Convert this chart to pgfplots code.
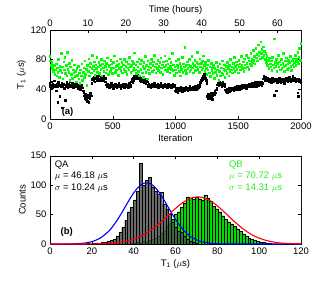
\documentclass[border=0pt]{standalone}
\usepackage{pgfplots}
\pgfplotsset{compat=1.18}
\usepackage{fontspec}
\setmainfont{Liberation Sans}
\definecolor{ptgreen}{RGB}{0,255,0}
\definecolor{bargreen}{RGB}{0,220,0}
\definecolor{txtgreen}{RGB}{40,235,40}
\definecolor{bargray}{RGB}{75,75,75}
\pgfplotsset{
  every axis/.append style={
    /pgf/number format/assume math mode=true,
    tick label style={font=\fontsize{9.5}{11}\selectfont},
    label style={font=\fontsize{9.5}{11}\selectfont},
    major tick length=3pt,
    tick style={black, line width=0.4pt},
  }
}
\begin{document}
\begin{tikzpicture}
\path[use as bounding box] (0,0) rectangle (336pt,284pt);
% ---------- panel (a) ----------
\begin{axis}[at={(50pt,165pt)}, anchor=south west, scale only axis,
  width=251pt, height=89pt,
  xmin=0, xmax=2000, ymin=0, ymax=120,
  xtick={0,500,1000,1500,2000}, ytick={0,40,80,120},
  xtick pos=bottom, ytick pos=both,
  scaled x ticks=false,
  xticklabel style={/pgf/number format/1000 sep={}},
  xlabel={Iteration}, ylabel={T\textsubscript{1} ($\mu$s)},
  xlabel style={yshift=2pt}, ylabel style={yshift=-2pt},
  clip=true]
\addplot[black, only marks, mark=square*, mark size=0.8pt, mark options={line width=0pt}] coordinates {
(0,48)(5,44)(10,50)(15,46)(20,42)(25,47)(30,45)(35,51)(40,43)(45,46)
(50,38)(55,47)(60,44)(65,22)(70,49)(75,45)(80,30)(85,46)(90,43)(95,48)
(100,15)(105,45)(110,47)(115,41)(120,46)(125,25)(130,44)(135,49)(140,45)(145,42)
(150,47)(155,44)(160,50)(165,46)(170,43)(175,45)(180,48)(185,42)(190,46)(195,44)
(200,47)(205,43)(210,45)(215,49)(220,44)(225,41)(230,46)(235,43)(240,47)(245,40)
(250,44)(255,46)(260,42)(265,38)(270,35)(275,31)(280,28)(285,33)(290,26)(295,30)
(300,24)(305,32)(310,22)(315,29)(320,27)(325,34)(330,31)(335,48)(340,53)(345,55)
(350,52)(355,56)(360,50)(365,54)(370,57)(375,51)(380,55)(385,53)(390,58)(395,52)
(400,54)(405,56)(410,51)(415,55)(420,53)(425,57)(430,52)(435,54)(440,50)(445,55)
(450,46)(455,44)(460,47)(465,43)(470,45)(475,42)(480,46)(485,44)(490,48)(495,43)
(500,45)(505,41)(510,46)(515,44)(520,47)(525,43)(530,45)(535,42)(540,46)(545,44)
(550,48)(555,43)(560,45)(565,41)(570,44)(575,46)(580,43)(585,47)(590,44)(595,42)
(600,45)(605,47)(610,43)(615,46)(620,44)(625,42)(630,45)(635,48)(640,44)(645,46)
(650,50)(655,53)(660,49)(665,55)(670,52)(675,57)(680,54)(685,58)(690,55)(695,59)
(700,56)(705,58)(710,54)(715,57)(720,52)(725,55)(730,50)(735,53)(740,51)(745,54)
(750,49)(755,52)(760,50)(765,48)(770,53)(775,50)(780,45)(785,43)(790,47)(795,44)
(800,46)(805,42)(810,45)(815,47)(820,43)(825,46)(830,44)(835,48)(840,45)(845,43)
(850,46)(855,44)(860,47)(865,42)(870,45)(875,43)(880,46)(885,48)(890,44)(895,45)
(900,42)(905,46)(910,44)(915,47)(920,43)(925,45)(930,46)(935,42)(940,44)(945,47)
(950,45)(955,43)(960,46)(965,44)(970,42)(975,45)(980,47)(985,43)(990,44)(995,46)
(1000,38)(1005,41)(1010,37)(1015,40)(1020,36)(1025,42)(1030,39)(1035,41)(1040,38)(1045,43)
(1050,40)(1055,37)(1060,42)(1065,39)(1070,41)(1075,38)(1080,40)(1085,43)(1090,39)(1095,41)
(1100,38)(1105,42)(1110,40)(1115,44)(1120,41)(1125,39)(1130,42)(1135,40)(1140,43)(1145,41)
(1150,39)(1155,42)(1160,44)(1165,40)(1170,43)(1175,41)(1180,45)(1185,42)(1190,44)(1195,47)
(1200,49)(1205,52)(1210,55)(1215,53)(1220,58)(1225,56)(1230,60)(1235,57)(1240,55)(1245,52)
(1250,48)(1255,30)(1260,28)(1265,33)(1270,27)(1275,31)(1280,29)(1285,34)(1290,30)(1295,26)
(1300,32)(1305,35)(1310,33)(1315,37)(1320,35)(1325,39)(1330,41)(1335,46)(1340,48)(1345,45)
(1350,47)(1355,49)(1360,46)(1365,48)(1370,44)(1375,47)(1380,49)(1385,45)(1390,47)(1395,44)
(1400,39)(1405,37)(1410,40)(1415,36)(1420,38)(1425,41)(1430,37)(1435,40)(1440,38)(1445,41)
(1450,39)(1455,42)(1460,40)(1465,38)(1470,41)(1475,43)(1480,39)(1485,42)(1490,40)(1495,44)
(1500,41)(1505,43)(1510,40)(1515,42)(1520,44)(1525,41)(1530,43)(1535,45)(1540,42)(1545,44)
(1550,42)(1555,45)(1560,43)(1565,41)(1570,44)(1575,46)(1580,43)(1585,45)(1590,47)(1595,44)
(1600,46)(1605,43)(1610,45)(1615,48)(1620,44)(1625,47)(1630,45)(1635,49)(1640,46)(1645,44)
(1650,47)(1655,49)(1660,45)(1665,48)(1670,46)(1675,50)(1680,47)(1685,49)(1690,45)(1695,48)
(1700,54)(1705,58)(1710,55)(1715,52)(1720,56)(1725,53)(1730,51)(1735,55)(1740,52)(1745,50)
(1750,54)(1755,51)(1760,53)(1765,49)(1770,52)(1775,55)(1780,50)(1785,53)(1790,32)(1795,51)
(1800,54)(1805,38)(1810,52)(1815,49)(1820,53)(1825,50)(1830,55)(1835,52)(1840,49)(1845,53)
(1850,51)(1855,54)(1860,50)(1865,52)(1870,48)(1875,53)(1880,51)(1885,55)(1890,52)(1895,50)
(1900,54)(1905,51)(1910,56)(1915,53)(1920,50)(1925,54)(1930,52)(1935,57)(1940,53)(1945,51)
(1950,55)(1955,52)(1960,50)(1965,54)(1970,51)(1975,35)(1980,30)(1985,53)(1990,50)(1995,52)(2000,49)
};
\addplot[ptgreen, only marks, mark=square*, mark size=0.8pt, mark options={line width=0pt}] coordinates {
(0,84)(5,78)(10,72)(15,76)(20,68)(25,70)(30,64)(35,72)(40,60)(45,66)
(50,74)(55,58)(60,69)(65,63)(70,80)(75,56)(80,71)(85,65)(90,88)(95,62)
(100,70)(105,54)(110,77)(115,66)(120,83)(125,61)(130,72)(135,58)(140,90)(145,67)
(150,63)(155,75)(160,52)(165,70)(170,60)(175,79)(180,55)(185,66)(190,62)(195,73)
(200,57)(205,64)(210,50)(215,68)(220,59)(225,71)(230,54)(235,62)(240,48)(245,66)
(250,58)(255,74)(260,52)(265,63)(270,69)(275,56)(280,78)(285,60)(290,67)(295,45)
(300,72)(305,64)(310,81)(315,58)(320,70)(325,75)(330,62)(335,68)(340,86)(345,71)
(350,65)(355,77)(360,59)(365,73)(370,68)(375,83)(380,63)(385,70)(390,76)(395,61)
(400,72)(405,67)(410,80)(415,58)(420,74)(425,69)(430,64)(435,78)(440,71)(445,62)
(450,75)(455,66)(460,82)(465,60)(470,70)(475,73)(480,64)(485,79)(490,68)(495,74)
(500,61)(505,76)(510,69)(515,85)(520,63)(525,71)(530,66)(535,78)(540,72)(545,59)
(550,74)(555,68)(560,81)(565,65)(570,70)(575,76)(580,62)(585,73)(590,67)(595,80)
(600,64)(605,71)(610,77)(615,60)(620,69)(625,74)(630,66)(635,83)(640,70)(645,63)
(650,72)(655,78)(660,65)(665,75)(670,68)(675,89)(680,66)(685,73)(690,61)(695,77)
(700,70)(705,64)(710,81)(715,58)(720,74)(725,67)(730,79)(735,62)(740,71)(745,56)
(750,76)(755,68)(760,84)(765,63)(770,72)(775,54)(780,78)(785,66)(790,70)(795,61)
(800,75)(805,69)(810,80)(815,64)(820,72)(825,77)(830,66)(835,86)(840,70)(845,62)
(850,74)(855,68)(860,79)(865,65)(870,71)(875,76)(880,63)(885,82)(890,69)(895,73)
(900,60)(905,77)(910,70)(915,85)(920,66)(925,72)(930,78)(935,64)(940,74)(945,68)
(950,81)(955,62)(960,71)(965,76)(970,67)(975,88)(980,65)(985,73)(990,59)(995,70)
(1000,66)(1005,78)(1010,62)(1015,72)(1020,69)(1025,80)(1030,64)(1035,75)(1040,58)(1045,71)
(1050,67)(1055,83)(1060,63)(1065,74)(1070,70)(1075,96)(1080,65)(1085,72)(1090,61)(1095,77)
(1100,68)(1105,73)(1110,80)(1115,64)(1120,71)(1125,66)(1130,84)(1135,69)(1140,75)(1145,62)
(1150,72)(1155,79)(1160,65)(1165,70)(1170,76)(1175,90)(1180,67)(1185,74)(1190,63)(1195,81)
(1200,70)(1205,75)(1210,66)(1215,78)(1220,69)(1225,85)(1230,72)(1235,64)(1240,76)(1245,68)
(1250,60)(1255,73)(1260,66)(1265,79)(1270,62)(1275,70)(1280,57)(1285,75)(1290,65)(1295,69)
(1300,61)(1305,72)(1310,55)(1315,68)(1320,63)(1325,76)(1330,59)(1335,66)(1340,71)(1345,52)
(1350,64)(1355,74)(1360,58)(1365,69)(1370,62)(1375,78)(1380,60)(1385,67)(1390,73)(1395,56)
(1400,65)(1405,71)(1410,61)(1415,76)(1420,68)(1425,58)(1430,72)(1435,64)(1440,80)(1445,66)
(1450,70)(1455,62)(1460,75)(1465,68)(1470,83)(1475,64)(1480,71)(1485,77)(1490,67)(1495,73)
(1500,62)(1505,79)(1510,70)(1515,74)(1520,66)(1525,84)(1530,72)(1535,68)(1540,77)(1545,64)
(1550,81)(1555,73)(1560,69)(1565,86)(1570,75)(1575,70)(1580,82)(1585,67)(1590,78)(1595,74)
(1600,88)(1605,72)(1610,80)(1615,76)(1620,92)(1625,79)(1630,84)(1635,74)(1640,95)(1645,82)
(1650,87)(1655,78)(1660,100)(1665,85)(1670,90)(1675,81)(1680,104)(1685,88)(1690,94)(1695,83)
(1700,97)(1705,86)(1710,91)(1715,80)(1720,88)(1725,76)(1730,84)(1735,72)(1740,79)(1745,68)
(1750,82)(1755,74)(1760,70)(1765,78)(1770,65)(1775,83)(1780,73)(1785,69)(1790,108)(1795,76)
(1800,71)(1805,80)(1810,64)(1815,75)(1820,86)(1825,70)(1830,77)(1835,66)(1840,73)(1845,80)
(1850,68)(1855,75)(1860,88)(1865,71)(1870,64)(1875,78)(1880,72)(1885,82)(1890,67)(1895,74)
(1900,79)(1905,69)(1910,76)(1915,84)(1920,71)(1925,65)(1930,78)(1935,73)(1940,81)(1945,70)
(1950,76)(1955,86)(1960,72)(1965,80)(1970,77)(1975,90)(1980,74)(1985,83)(1990,95)(1995,79)(2000,102)
};
\node[font=\bfseries\fontsize{9.5}{11}\selectfont] at (axis cs:140,9) {(a)};
\draw[gray!80] (rel axis cs:1,0) -- (rel axis cs:1,1);
\end{axis}
% top hours axis
\begin{axis}[at={(50pt,165pt)}, anchor=south west, scale only axis,
  width=251pt, height=89pt,
  xmin=0, xmax=66.2, ymin=0, ymax=1,
  axis x line*=top, axis y line=none,
  xtick={0,10,20,30,40,50,60},
  xlabel={Time (hours)}, xlabel style={yshift=-2pt}]
\end{axis}
% ---------- panel (b) ----------
\begin{axis}[at={(50pt,40pt)}, anchor=south west, scale only axis,
  width=251pt, height=88.3pt,
  xmin=0, xmax=120, ymin=0, ymax=150,
  xtick={0,20,40,60,80,100,120}, ytick={0,50,100,150},
  xlabel={T\textsubscript{1} ($\mu$s)}, ylabel={Counts},
  xlabel style={yshift=2pt}, ylabel style={yshift=-2pt}]
\addplot[ybar, bar width=1.4, bar shift=0pt, fill=bargreen, draw=black, line width=0.25pt] coordinates {
(39.2,1)(40.6,2)(42.0,3)(43.4,2)(44.8,5)(46.2,4)(47.6,6)(49.0,8)(50.4,10)(51.8,14)
(53.2,18)(54.6,22)(56.0,30)(57.4,36)(58.8,42)(60.2,50)(61.6,55)(63.0,62)(64.4,70)(65.8,80)
(67.2,78)(68.6,76)(70.0,79)(71.4,77)(72.8,74)(74.2,83)(75.6,78)(77.0,72)(78.4,64)(79.8,60)
(81.2,55)(82.6,48)(84.0,42)(85.4,38)(86.8,34)(88.2,30)(89.6,26)(91.0,22)(92.4,17)(93.8,14)
(95.2,10)(96.6,8)(98.0,6)(99.4,5)(100.8,4)(102.2,3)(103.6,2)(105.0,1)
};
\addplot[ybar, bar width=1.4, bar shift=0pt, fill=bargray, fill opacity=0.82, draw=black, line width=0.25pt] coordinates {
(18.2,1)(19.6,0)(21.0,1)(22.4,2)(23.8,1)(25.2,3)(26.6,3)(28.0,5)(29.4,6)(30.8,8)
(32.2,14)(33.6,20)(35.0,28)(36.4,40)(37.8,55)(39.2,62)(40.6,75)(42.0,90)(43.4,137)(44.8,100)
(46.2,108)(47.6,113)(49.0,97)(50.4,90)(51.8,85)(53.2,88)(54.6,68)(56.0,60)(57.4,50)(58.8,38)
(60.2,28)(61.6,22)(63.0,20)(64.4,14)(65.8,8)(67.2,5)(68.6,3)(70.0,1)
};
\addplot[blue, line width=1.1pt, smooth] coordinates {
(0,0)(10,0.2)(16,1.35)(20,4.0)(24,10.0)(28,21.5)(30,29.9)(32,39.9)(34,51.3)(36,63.4)
(38,75.6)(40,86.7)(42,95.7)(44,101.7)(46,104)(48,102.4)(50,97.0)(52,88.5)(54,77.7)(56,65.7)
(58,53.4)(60,41.8)(62,31.5)(64,22.9)(66,16.0)(68,10.7)(72,4.3)(76,1.5)(80,0.45)(90,0)(120,0)
};
\addplot[red, line width=1.1pt, smooth] coordinates {
(0,0)(20,0.15)(30,1.4)(36,4.2)(40,8.0)(44,14.0)(48,22.7)(52,34.0)(56,47.1)(60,60.4)
(64,71.6)(68,78.6)(70.72,80)(72,79.7)(76,74.7)(80,64.8)(84,52.0)(88,38.6)(92,26.5)(96,16.8)
(100,9.9)(104,5.4)(108,2.7)(112,1.25)(120,0.2)
};
\node[anchor=north west, align=left, inner sep=0pt, font=\fontsize{9.5}{11.5}\selectfont] at (axis cs:2.2,142)
  {QA\\$\mu$ = 46.18 $\mu$s\\$\sigma$ = 10.24 $\mu$s};
\node[anchor=north west, align=left, inner sep=0pt, text=txtgreen, font=\fontsize{9.5}{11.5}\selectfont] at (axis cs:85.5,142)
  {QB\\$\mu$ = 70.72 $\mu$s\\$\sigma$ = 14.31 $\mu$s};
\node[font=\bfseries\fontsize{9.5}{11}\selectfont] at (axis cs:8,20) {(b)};
\draw[gray!80] (rel axis cs:1,0) -- (rel axis cs:1,1);
\end{axis}
\end{tikzpicture}
\end{document}
